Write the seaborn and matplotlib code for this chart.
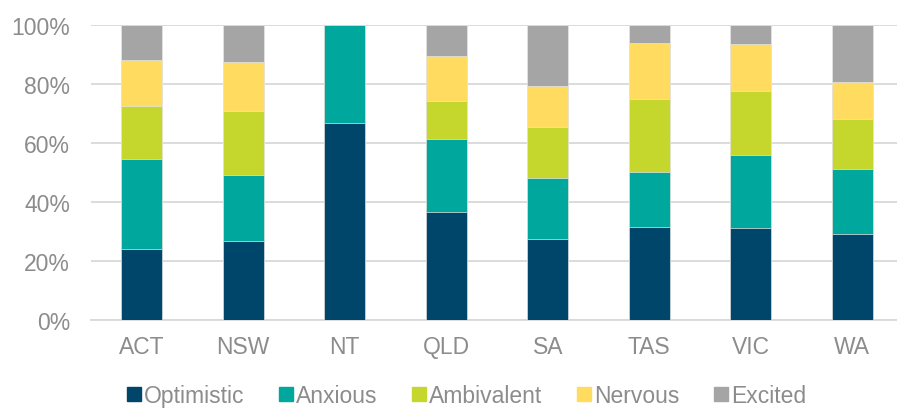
import numpy as np
import pandas as pd
import matplotlib
matplotlib.use('Agg')
import matplotlib.pyplot as plt
import seaborn as sns
from matplotlib.lines import Line2D
from matplotlib.ticker import PercentFormatter

# data (share of respondents, %)
states = ['ACT', 'NSW', 'NT', 'QLD', 'SA', 'TAS', 'VIC', 'WA']
series = ['Optimistic', 'Anxious', 'Ambivalent', 'Nervous', 'Excited']
optimistic = [24.0, 26.8, 66.7, 36.4, 27.3, 31.25, 31.0, 29.0]
anxious = [30.5, 22.4, 33.3, 24.8, 20.8, 18.75, 24.7, 22.1]
ambivalent = [18.1, 21.6, 0.0, 12.9, 17.2, 25.0, 21.9, 17.0]
nervous = [15.3, 16.7, 0.0, 15.4, 14.0, 18.75, 15.9, 12.4]
excited = [12.1, 12.5, 0.0, 10.5, 20.7, 6.25, 6.5, 19.5]

colors = ['#00466B', '#00A79D', '#C5D72D', '#FFDC5F', '#A5A5A5']
TEXT = '#8C8C8C'
GRID = '#D9D9D9'
FS = 16.5

df = pd.DataFrame({'state': states, 'Optimistic': optimistic, 'Anxious': anxious,
                   'Ambivalent': ambivalent, 'Nervous': nervous, 'Excited': excited})

sns.set_theme(style='white')
plt.rcParams['font.family'] = ['Liberation Sans', 'DejaVu Sans']

fig = plt.figure(figsize=(8.97, 4.10), dpi=100)
ax = fig.add_axes([91 / 897, 0.218, 812 / 897, 0.719])

# stacked bars: draw cumulative totals from the top series down
cum = df[series].cumsum(axis=1)
for name, col in reversed(list(zip(series, colors))):
    sns.barplot(x=df['state'], y=cum[name], color=col, width=0.4,
                edgecolor='#E6E6E6', linewidth=0.5, saturation=1, ax=ax, zorder=3)

ax.set_ylim(0, 100)
ax.set_yticks(np.arange(0, 101, 20))
ax.yaxis.set_major_formatter(PercentFormatter(decimals=0))
ax.grid(axis='y', color=GRID, linewidth=1.3, zorder=0)
ax.set_axisbelow(True)
for s in ['top', 'right', 'left']:
    ax.spines[s].set_visible(False)
ax.spines['bottom'].set_color(GRID)
ax.spines['bottom'].set_linewidth(1.3)
ax.tick_params(axis='y', length=0, pad=15, labelsize=FS, labelcolor=TEXT)
ax.tick_params(axis='x', length=0, pad=11, labelsize=FS, labelcolor=TEXT)
ax.set_xlabel('')
ax.set_ylabel('')

handles = [Line2D([0], [0], marker='s', linestyle='', markersize=10,
                  markerfacecolor=c, markeredgecolor=c) for c in colors]
fig.legend(handles, series, loc='center', bbox_to_anchor=(466 / 897, 0.032),
           ncol=5, frameon=False, fontsize=FS, labelcolor=TEXT,
           handletextpad=0.1, columnspacing=1.45, handlelength=0.7,
           borderpad=0.1)

fig.savefig('out.png', dpi=100)
